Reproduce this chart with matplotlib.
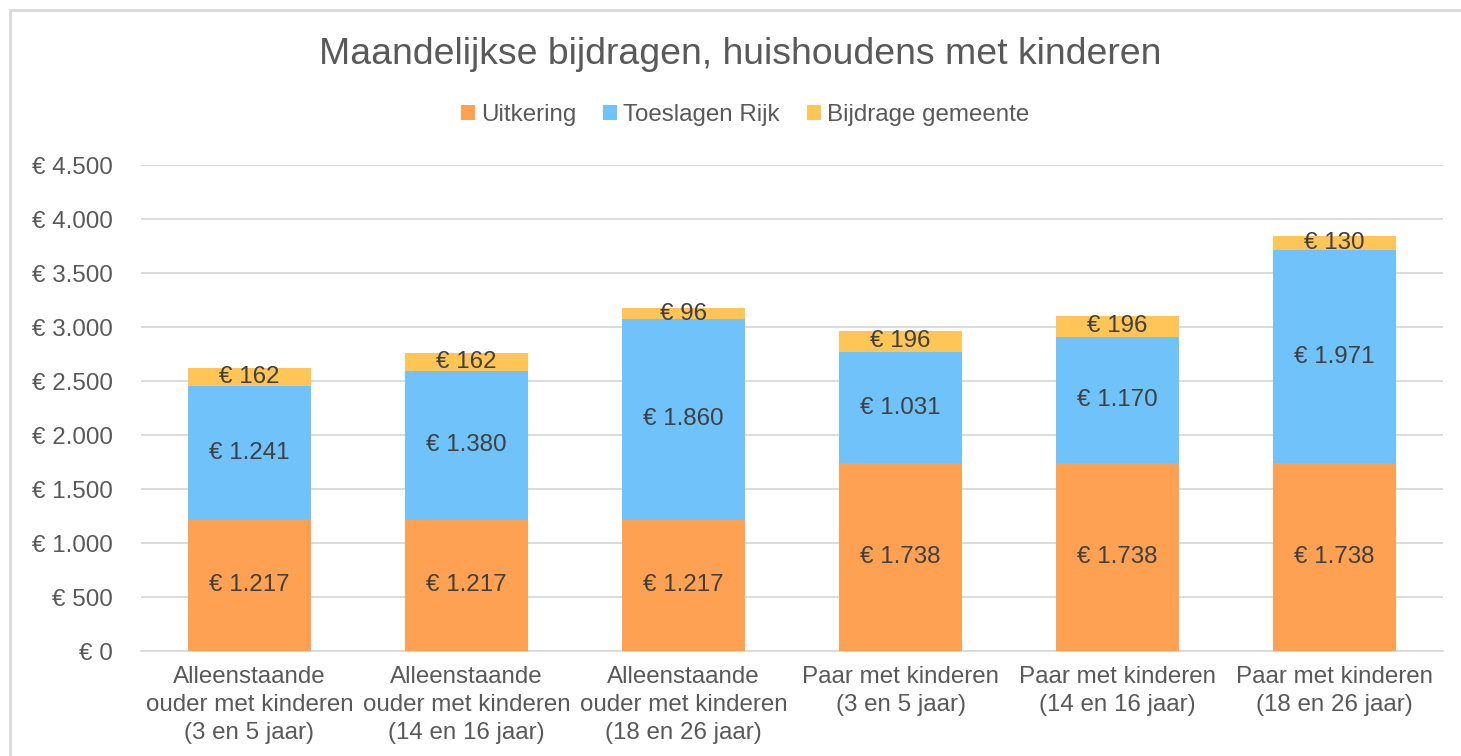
import matplotlib
matplotlib.use('Agg')
import matplotlib.pyplot as plt
from matplotlib.patches import Rectangle
import numpy as np

# data
categories = [
    'Alleenstaande\nouder met kinderen\n(3 en 5 jaar)',
    'Alleenstaande\nouder met kinderen\n(14 en 16 jaar)',
    'Alleenstaande\nouder met kinderen\n(18 en 26 jaar)',
    'Paar met kinderen\n(3 en 5 jaar)',
    'Paar met kinderen\n(14 en 16 jaar)',
    'Paar met kinderen\n(18 en 26 jaar)',
]
uitkering = [1217, 1217, 1217, 1738, 1738, 1738]
toeslagen = [1241, 1380, 1860, 1031, 1170, 1971]
gemeente = [162, 162, 96, 196, 196, 130]
series_names = ['Uitkering', 'Toeslagen Rijk', 'Bijdrage gemeente']
yticks = [0, 500, 1000, 1500, 2000, 2500, 3000, 3500, 4000, 4500]


def euro(v):
    return '€ ' + f'{v:,}'.replace(',', '.')


plt.rcParams['font.family'] = ['Liberation Sans', 'DejaVu Sans']
text_col = '#595959'
label_col = '#404040'
colors = ['#FFA152', '#70C2FA', '#FFC556']
fs = 17.4

fig = plt.figure(figsize=(14.61, 7.56), dpi=100)
ax = fig.add_axes([141 / 1461, 1 - 651 / 756, 1302 / 1461, 486 / 756])

# outer frame
fig.patches.append(Rectangle((10 / 1461, -0.1), 1.2, 1 - 10 / 756 + 0.1,
                             transform=fig.transFigure, fill=False,
                             edgecolor='#D9D9D9', linewidth=2))

x = np.arange(len(categories))
w = 0.57
bottom = np.zeros(len(categories))
for vals, name, col in zip([uitkering, toeslagen, gemeente], series_names, colors):
    bars = ax.bar(x, vals, w, bottom=bottom, color=col, label=name, zorder=3)
    for xi, b, v in zip(x, bottom, vals):
        ax.text(xi, b + v / 2, euro(v), ha='center', va='center',
                fontsize=fs, color=label_col, zorder=4)
    bottom = bottom + np.array(vals)

ax.set_xlim(-0.5, len(categories) - 0.5)
ax.set_ylim(0, 4500)
ax.set_yticks(yticks)
ax.set_yticklabels([euro(v) for v in yticks])
ax.set_xticks(x)
ax.set_xticklabels(categories, linespacing=1.34)
ax.tick_params(axis='both', length=0, labelsize=fs, colors=text_col)
ax.tick_params(axis='y', pad=20)
ax.tick_params(axis='x', pad=11)
ax.grid(axis='y', color='#D9D9D9', linewidth=1.3, zorder=0)
for s in ['top', 'right', 'left']:
    ax.spines[s].set_visible(False)
ax.spines['bottom'].set_color('#D9D9D9')
ax.spines['bottom'].set_linewidth(1.3)

fig.text(740 / 1461, 1 - 55 / 756, 'Maandelijkse bijdragen, huishoudens met kinderen',
         ha='center', va='center', fontsize=26.9, color=text_col)

fig.legend(loc='center', bbox_to_anchor=(745 / 1461, 1 - 115 / 756), ncol=3,
           frameon=False, fontsize=fs, handlelength=0.6, handleheight=0.6,
           handletextpad=0.25, columnspacing=1.1, labelcolor=text_col)

plt.savefig('out.png', dpi=100)
